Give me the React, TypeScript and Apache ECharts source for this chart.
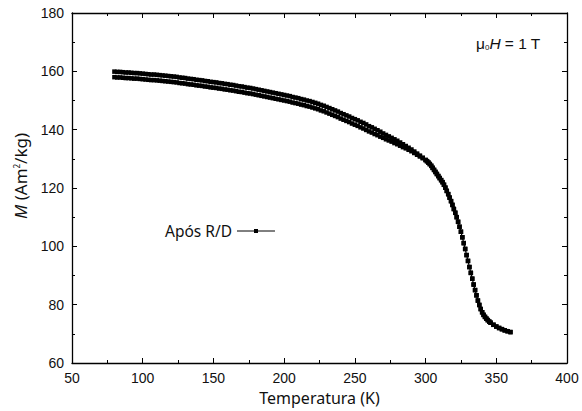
import React, { useEffect, useRef } from "react";
import * as echarts from "echarts";

// Heating / cooling branches below 300 K (step 2 K)
const tempsLow = [
  80, 82, 84, 86, 88, 90, 92, 94, 96, 98,
  100, 102, 104, 106, 108, 110, 112, 114, 116, 118,
  120, 122, 124, 126, 128, 130, 132, 134, 136, 138,
  140, 142, 144, 146, 148, 150, 152, 154, 156, 158,
  160, 162, 164, 166, 168, 170, 172, 174, 176, 178,
  180, 182, 184, 186, 188, 190, 192, 194, 196, 198,
  200, 202, 204, 206, 208, 210, 212, 214, 216, 218,
  220, 222, 224, 226, 228, 230, 232, 234, 236, 238,
  240, 242, 244, 246, 248, 250, 252, 254, 256, 258,
  260, 262, 264, 266, 268, 270, 272, 274, 276, 278,
  280, 282, 284, 286, 288, 290, 292, 294, 296, 298,
  300,
];

const mHeatLow = [
  158.0, 157.9, 157.9, 157.8, 157.7, 157.7, 157.6, 157.5, 157.5, 157.4,
  157.3, 157.2, 157.1, 157.0, 157.0, 156.9, 156.8, 156.7, 156.6, 156.5,
  156.4, 156.3, 156.2, 156.0, 155.9, 155.8, 155.6, 155.5, 155.4, 155.2,
  155.1, 155.0, 154.8, 154.7, 154.5, 154.4, 154.3, 154.1, 154.0, 153.8,
  153.7, 153.5, 153.4, 153.2, 153.0, 152.9, 152.7, 152.5, 152.4, 152.2,
  152.0, 151.8, 151.6, 151.4, 151.2, 151.0, 150.8, 150.6, 150.4, 150.2,
  150.0, 149.8, 149.6, 149.3, 149.1, 148.9, 148.6, 148.4, 148.1, 147.9,
  147.6, 147.3, 147.0, 146.6, 146.3, 145.9, 145.5, 145.1, 144.7, 144.3,
  143.8, 143.4, 143.0, 142.6, 142.1, 141.7, 141.3, 140.8, 140.4, 139.9,
  139.4, 139.0, 138.5, 138.1, 137.6, 137.2, 136.7, 136.3, 135.9, 135.4,
  135.0, 134.5, 134.0, 133.6, 133.1, 132.6, 132.0, 131.4, 130.8, 130.2,
  129.6,
];

const mCoolLow = [
  159.9, 159.8, 159.8, 159.7, 159.6, 159.6, 159.5, 159.4, 159.4, 159.3,
  159.2, 159.1, 159.0, 158.9, 158.9, 158.8, 158.7, 158.6, 158.5, 158.4,
  158.3, 158.2, 158.1, 157.9, 157.8, 157.7, 157.5, 157.4, 157.3, 157.1,
  157.0, 156.9, 156.7, 156.6, 156.4, 156.3, 156.2, 156.0, 155.9, 155.7,
  155.6, 155.4, 155.3, 155.1, 154.9, 154.8, 154.6, 154.4, 154.3, 154.1,
  153.9, 153.7, 153.5, 153.3, 153.1, 152.9, 152.7, 152.5, 152.3, 152.1,
  151.9, 151.7, 151.5, 151.2, 151.0, 150.8, 150.5, 150.3, 150.0, 149.8,
  149.5, 149.2, 148.9, 148.5, 148.2, 147.8, 147.4, 147.0, 146.6, 146.2,
  145.7, 145.3, 144.9, 144.5, 144.0, 143.6, 143.2, 142.7, 142.3, 141.8,
  141.2, 140.8, 140.3, 139.8, 139.3, 138.7, 138.2, 137.7, 137.2, 136.7,
  136.2, 135.6, 135.0, 134.4, 133.8, 133.2, 132.5, 131.8, 131.1, 130.4,
  129.6,
];

// Common part above 300 K
const tempsHigh = [
  301, 302, 303, 304, 305, 306, 307, 308, 309, 310,
  311, 312, 313, 314, 315, 316, 317, 318, 319, 320,
  321, 322, 323, 324, 325, 326, 327, 328, 329, 330,
  331, 332, 333, 334, 335, 336, 337, 338, 339, 340,
  341, 342, 343, 344, 345, 346, 348, 350, 352, 354,
  356, 358, 360,
];

const mHigh = [
  129.2, 128.7, 128.2, 127.6, 126.9, 126.2, 125.5, 124.8, 124.1, 123.4,
  122.7, 122.0, 121.1, 120.1, 119.0, 117.9, 116.7, 115.5, 114.2, 112.8,
  111.5, 110.0, 108.4, 106.7, 105.0, 103.1, 101.1, 99.1, 97.0, 95.0,
  92.9, 90.9, 88.9, 86.9, 85.0, 83.2, 81.4, 79.9, 78.5, 77.4,
  76.5, 75.8, 75.2, 74.7, 74.2, 73.8, 73.1, 72.5, 72.0, 71.6,
  71.2, 70.9, 70.6,
];

const seriesName = "Após R/D";

export default function App() {
  const ref = useRef<HTMLDivElement>(null);

  useEffect(() => {
    if (!ref.current) return;
    const chart = echarts.init(ref.current, null, { renderer: "svg" });

    const heat: number[][] = tempsLow.map((t, i) => [t, mHeatLow[i]]);
    const high: number[][] = tempsHigh.map((t, i) => [t, mHigh[i]]);
    const cool: number[][] = tempsLow.map((t, i) => [t, mCoolLow[i]]);
    const data = [...heat, ...high, ...high.slice().reverse(), ...cool.slice().reverse()];

    const labelFont = "Liberation Sans";
    const axisCommon = {
      axisLine: { show: true, onZero: false, lineStyle: { color: "#000", width: 1.3 } },
      axisTick: { show: true, inside: true, length: 5, lineStyle: { color: "#000", width: 1 } },
      minorTick: { show: true, splitNumber: 2, length: 3, lineStyle: { color: "#000", width: 1 } },
      splitLine: { show: false },
      minorSplitLine: { show: false },
    };

    chart.setOption({
      animation: false,
      backgroundColor: "#fff",
      grid: { left: 72, top: 13, width: 495, height: 350, containLabel: false },
      legend: {
        data: [seriesName],
        left: 160,
        top: 218,
        align: "right",
        itemWidth: 38,
        itemHeight: 5,
        itemGap: 6,
        lineStyle: { width: 1 },
        itemStyle: { color: "#000" },
        textStyle: { fontFamily: "Noto Sans", fontSize: 15.5, color: "#111" },
      },
      xAxis: [
        {
          type: "value",
          min: 50,
          max: 400,
          interval: 50,
          position: "bottom",
          ...axisCommon,
          axisLabel: { fontFamily: labelFont, fontSize: 14, color: "#111", margin: 8 },
          name: "Temperatura (K)",
          nameLocation: "middle",
          nameGap: 27,
          nameTextStyle: { fontFamily: "Noto Sans", fontSize: 16, color: "#111" },
        },
        {
          type: "value",
          min: 50,
          max: 400,
          interval: 50,
          position: "top",
          ...axisCommon,
          axisLabel: { show: false },
        },
      ],
      yAxis: [
        {
          type: "value",
          min: 60,
          max: 180,
          interval: 20,
          position: "left",
          ...axisCommon,
          axisLabel: { fontFamily: labelFont, fontSize: 14, color: "#111", margin: 8 },
        },
        {
          type: "value",
          min: 60,
          max: 180,
          interval: 20,
          position: "right",
          ...axisCommon,
          axisLabel: { show: false },
        },
      ],
      graphic: [
        {
          type: "text",
          x: 20,
          y: 176,
          rotation: Math.PI / 2,
          style: {
            text: "{i|M} (Am{s|2}/kg)",
            align: "center",
            verticalAlign: "middle",
            fontFamily: "Noto Sans",
            fontSize: 17,
            fill: "#111",
            rich: {
              i: { fontFamily: "Noto Sans", fontSize: 17, fontStyle: "italic", fill: "#111" },
              s: { fontFamily: "Noto Sans", fontSize: 8, fill: "#111", padding: [0, 0, 8, 0] },
            },
          },
        },
        {
          type: "text",
          left: 476,
          top: 35,
          style: {
            text: "{a|μ}{s|0}{i|H} = 1 T",
            fontFamily: "Liberation Sans",
            fontSize: 15.5,
            fill: "#111",
            rich: {
              a: { fontFamily: "Liberation Sans", fontSize: 15.5, fill: "#111" },
              s: { fontFamily: "Liberation Sans", fontSize: 8, fill: "#111", padding: [9, 0, 0, 0] },
              i: { fontFamily: "Liberation Sans", fontSize: 15.5, fontStyle: "italic", fill: "#111" },
            },
          },
        },
      ],
      series: [
        {
          name: seriesName,
          type: "line",
          xAxisIndex: 0,
          yAxisIndex: 0,
          data,
          symbol: "rect",
          symbolSize: 4.5,
          showSymbol: true,
          showAllSymbol: true,
          itemStyle: { color: "#000" },
          lineStyle: { color: "#000", width: 1.2 },
        },
      ],
    });

    return () => chart.dispose();
  }, []);

  return <div ref={ref} style={{ width: 582, height: 411, position: "absolute", left: 0, top: 0 }} />;
}
